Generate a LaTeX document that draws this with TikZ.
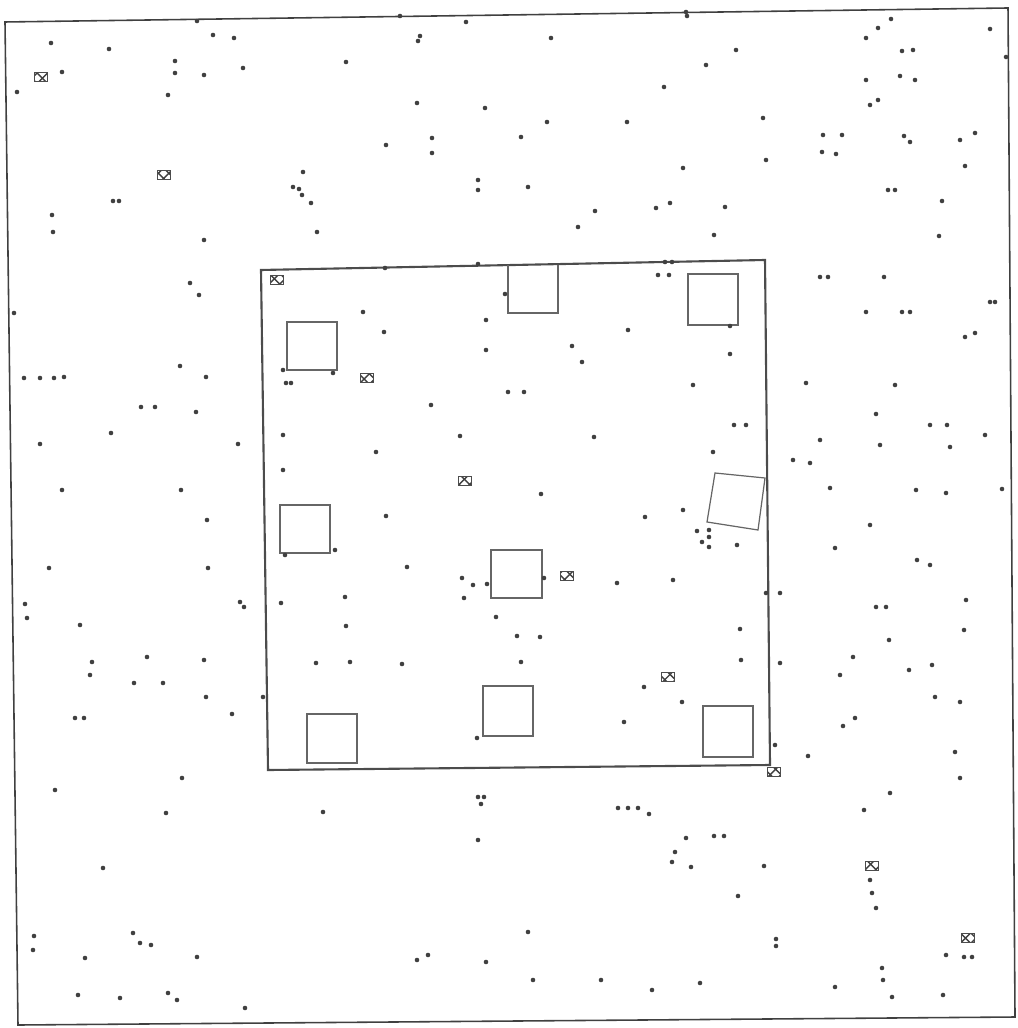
\documentclass[tikz,border=0pt]{standalone}
\usepackage{tikz}
\usetikzlibrary{patterns}

\begin{document}
\begin{tikzpicture}[
    x=0.01cm, y=-0.01cm,
    frame/.style={line width=0.45pt, black!75},
    plot/.style={line width=0.6pt, black!70},
    pad/.style={line width=0.35pt, black!60},
    pin/.style={fill=black!75},
    tag/.style={draw=black!70, line width=0.35pt, pattern=crosshatch, pattern color=black!75,
                minimum width=0.13cm, minimum height=0.095cm, inner sep=0pt}
]

% feste Bildgrenzen
\path[use as bounding box] (0,0) rectangle (1017,1028);

% Aussengrenze (leicht verzogen wie im Scan)
\draw[frame] (5,22) -- (1008,8) -- (1015,1017) -- (18,1025) -- cycle;

% Baufeld
\draw[plot] (261,270) -- (765,260) -- (770,765) -- (268,770) -- cycle;

% Fundamente
\draw[pad] (508,265) -- (508,313) -- (558,313) -- (558,265);
\draw[pad] (688,274) rectangle (738,325);
\draw[pad] (287,322) rectangle (337,370);
\draw[pad] (280,505) rectangle (330,553);
\draw[pad] (491,550) rectangle (542,598);
\draw[pad] (715,473) -- (765,478) -- (758,530) -- (707,522) -- cycle;
\draw[pad] (307,714) rectangle (357,763);
\draw[pad] (483,686) rectangle (533,736);
\draw[pad] (703,706) rectangle (753,757);

% Markierungen
\node[tag] (t1)  at (41,77)   {};
\node[tag] (t2)  at (164,175) {};
\node[tag] (t3)  at (277,280) {};
\node[tag] (t4)  at (367,378) {};
\node[tag] (t5)  at (465,481) {};
\node[tag] (t6)  at (567,576) {};
\node[tag] (t7)  at (668,677) {};
\node[tag] (t8)  at (774,772) {};
\node[tag] (t9)  at (872,866) {};
\node[tag] (t10) at (968,938) {};

% Messpunkte
\foreach \p in {
  (197,21),(400,16),(466,22),(686,12),(687,16),
  (51,43),(109,49),(213,35),(234,38),(420,36),(418,41),(551,38),(736,50),(866,38),(878,28),(891,19),(902,51),(913,50),(990,29),(1006,57),
  (62,72),(175,61),(175,73),(204,75),(243,68),(346,62),(706,65),
  (17,92),(168,95),(866,80),(900,76),(915,80),(664,87),
  (417,103),(485,108),(547,122),(627,122),(763,118),(878,100),(870,105),
  (521,137),(432,138),(432,153),(386,145),(823,135),(842,135),(836,154),(822,152),(904,136),(910,142),(960,140),(975,133),
  (303,172),(478,180),(478,190),(528,187),(888,190),(895,190),(965,166),(766,160),(683,168),
  (293,187),(299,189),(302,195),(311,203),
  (113,201),(119,201),(52,215),(53,232),(204,240),(317,232),(595,211),(578,227),(656,208),(670,203),(725,207),(714,235),(942,201),(939,236),
  (190,283),(199,295),(14,313),(24,378),(40,378),(54,378),(64,377),(180,366),(206,377),(141,407),(155,407),(196,412),
  (111,433),(40,444),(238,444),(62,490),(181,490),(207,520),(49,568),(208,568),(240,602),(244,607),(25,604),(27,618),
  (80,625),(92,662),(90,675),(147,657),(134,683),(163,683),(204,660),(206,697),(75,718),(84,718),(232,714),(182,778),(55,790),(166,813),
  (385,268),(478,264),(665,262),(672,262),(658,275),(669,275),(505,294),(486,320),(572,346),(582,362),(628,330),(486,350),
  (363,312),(384,332),(283,370),(286,383),(291,383),(333,373),(431,405),(508,392),(524,392),(693,385),(730,354),(730,326),
  (283,435),(460,436),(376,452),(594,437),(713,452),(734,425),(746,425),(283,470),(386,516),(541,494),(645,517),
  (285,555),(335,550),(407,567),(462,578),(473,585),(464,598),(487,584),(544,578),(617,583),(673,580),
  (683,510),(697,531),(709,530),(709,537),(702,542),(709,547),(737,545),
  (281,603),(345,597),(346,626),(496,617),(517,636),(540,637),(521,662),(316,663),(350,662),(402,664),
  (740,629),(741,660),(644,687),(682,702),(624,722),(477,738),(263,697),(766,593),
  (806,383),(820,277),(828,277),(884,277),(902,312),(910,312),(866,312),(990,302),(995,302),(965,337),(975,333),
  (895,385),(876,414),(930,425),(947,425),(985,435),(950,447),(820,440),(880,445),(793,460),(810,463),
  (830,488),(916,490),(946,493),(1002,489),(870,525),(835,548),(917,560),(930,565),(876,607),(886,607),(966,600),
  (780,593),(964,630),(889,640),(853,657),(780,663),(932,665),(840,675),(909,670),(935,697),(960,702),
  (855,718),(843,726),(775,745),(955,752),(808,756),(960,778),(890,793),(864,810),
  (478,797),(484,797),(481,804),(323,812),(478,840),(618,808),(628,808),(638,808),(649,814),(686,838),(714,836),(724,836),
  (675,852),(672,862),(103,868),(691,867),(764,866),(870,880),(872,893),(876,908),(738,896),(776,939),(776,946),
  (528,932),(34,936),(33,950),(85,958),(133,933),(140,943),(151,945),(197,957),(428,955),(417,960),(486,962),
  (946,955),(964,957),(972,957),(882,968),(883,980),(892,997),(78,995),(120,998),(168,993),(177,1000),(245,1008),
  (533,980),(601,980),(652,990),(700,983),(835,987),(943,995)}
  \fill[pin] \p circle[radius=0.65pt];

\end{tikzpicture}
\end{document}
